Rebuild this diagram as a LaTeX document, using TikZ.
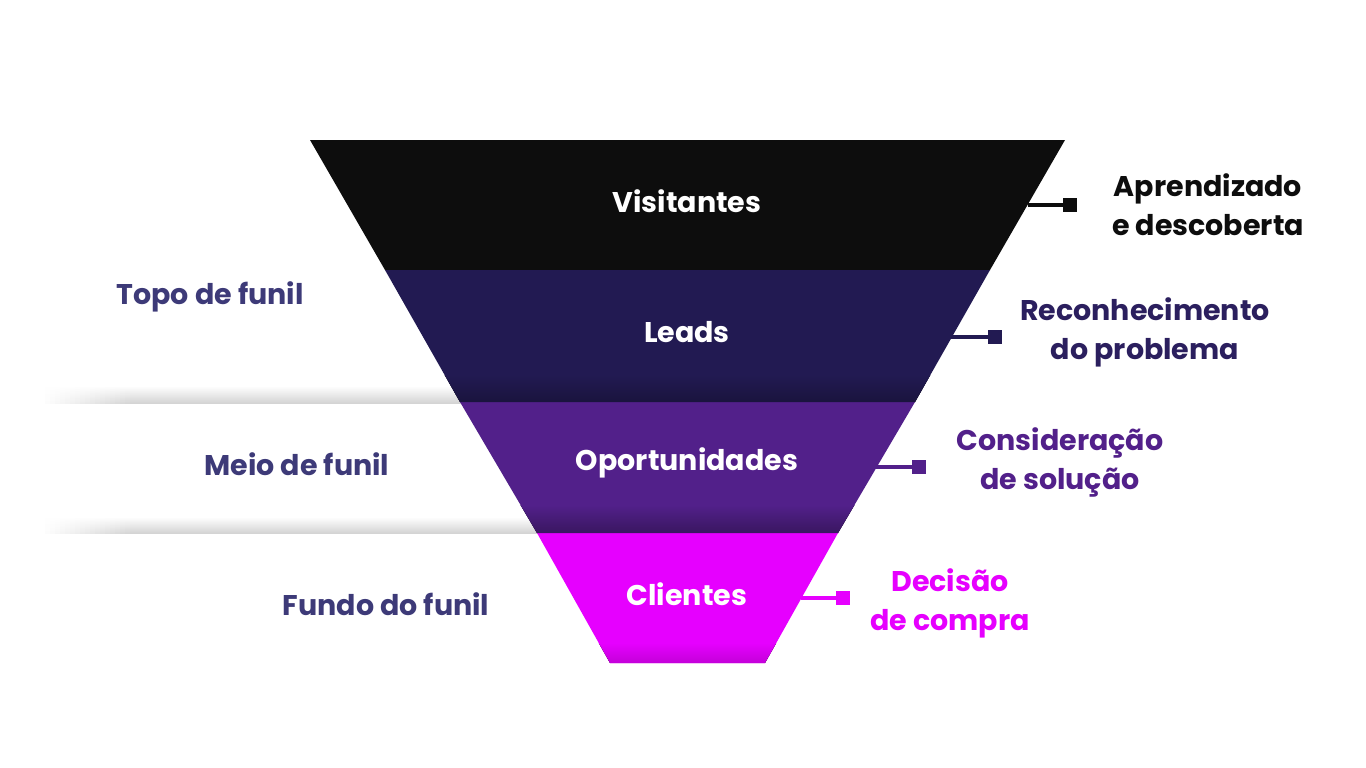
\documentclass[tikz,border=0pt]{standalone}
\usepackage{fontspec}
\setmainfont{Poppins}
\definecolor{cBlack}{HTML}{0D0D0D}
\definecolor{cNavy}{HTML}{221A52}
\definecolor{cPurple}{HTML}{52208A}
\definecolor{cMagenta}{HTML}{E600FF}
\definecolor{cLeft}{HTML}{3D3A78}
\definecolor{cNavyTxt}{HTML}{2B1F5E}
\definecolor{cPurpleTxt}{HTML}{52208A}
\tikzset{
  bandlabel/.style={text=white, font=\fontsize{28.5}{32}\selectfont\bfseries, anchor=center},
  sidelabel/.style={font=\fontsize{28.5}{39}\selectfont\bfseries, align=center, anchor=center},
  leftlabel/.style={text=cLeft, font=\fontsize{28.5}{32}\selectfont\bfseries, anchor=center},
  sq/.style={minimum size=14pt, inner sep=0pt, draw=none},
  conn/.style={line width=3.5pt},
  shadowstrip/.style={top color=white, bottom color=black!17},
}
\begin{document}
\begin{tikzpicture}[x=1pt,y=-1pt]
\useasboundingbox (0,0) rectangle (1366,768);
\fill[white] (0,0) rectangle (1366,768);
% left shadow strips
\fill[shadowstrip] (40,386) rectangle (470,403);
\fill[shadowstrip] (40,517) rectangle (545,533);
\foreach \i in {0,...,17}{
  \fill[white, opacity={1-\i/18}] ({40+5*\i},385) rectangle ({45.3+5*\i},404);
  \fill[white, opacity={1-\i/18}] ({40+5*\i},516) rectangle ({45.3+5*\i},534);
}
% funnel bands
\coordinate (t1l) at (310,140); \coordinate (t1r) at (1065,140);
\coordinate (t2l) at (385,270); \coordinate (t2r) at (990,270);
\coordinate (t3l) at (460,402); \coordinate (t3r) at (915,402);
\coordinate (t4l) at (537,533); \coordinate (t4r) at (838,533);
\coordinate (t5l) at (610,663); \coordinate (t5r) at (765,663);
\fill[cBlack] (t1l) -- (t1r) -- (t2r) -- (t2l) -- cycle;
\fill[cNavy] (t2l) -- (t2r) -- (t3r) -- (t3l) -- cycle;
\fill[cPurple] (t3l) -- (t3r) -- (t4r) -- (t4l) -- cycle;
\fill[cMagenta] (t4l) -- (t4r) -- (t5r) -- (t5l) -- cycle;
% bottom shading of bands
\begin{scope}
\clip (t2l) -- (t2r) -- (t3r) -- (t3l) -- cycle;
\fill[top color=cNavy, bottom color=cNavy!75!black] (380,375) rectangle (1000,402);
\end{scope}
\begin{scope}
\clip (t3l) -- (t3r) -- (t4r) -- (t4l) -- cycle;
\fill[top color=cPurple, bottom color=cPurple!70!black] (450,505) rectangle (920,533);
\end{scope}
\begin{scope}
\clip (t4l) -- (t4r) -- (t5r) -- (t5l) -- cycle;
\fill[top color=cMagenta, bottom color=cMagenta!85!black] (530,643) rectangle (840,663);
\end{scope}
% band labels
\node[bandlabel] (v) at (687,201) {Visitantes};
\node[bandlabel] (l) at (687,332) {Leads};
\node[bandlabel] (o) at (687,463) {Oportunidades};
\node[bandlabel] (c) at (687,594) {Clientes};
% left labels
\node[leftlabel] (topo) at (210,297) {Topo de funil};
\node[leftlabel] (meio) at (297,464) {Meio de funil};
\node[leftlabel] (fundo) at (386,604) {Fundo do funil};
% connectors
\coordinate (e1) at (1027.5,205);
\coordinate (e2) at (951,337);
\coordinate (e3) at (876,467);
\coordinate (e4) at (801,598);
\node[sq, fill=cBlack] (s1) at (1070,205) {};
\node[sq, fill=cNavy] (s2) at (995,337) {};
\node[sq, fill=cPurple] (s3) at (919,467) {};
\node[sq, fill=cMagenta] (s4) at (843,598) {};
\draw[conn, cBlack] (e1) -- (s1.west);
\draw[conn, cNavy] (e2) -- (s2.west);
\draw[conn, cPurple] (e3) -- (s3.west);
\draw[conn, cMagenta] (e4) -- (s4.west);
% right labels
\node[sidelabel, text=cBlack] (r1) at (1208,205) {Aprendizado\\e descoberta};
\node[sidelabel, text=cNavyTxt] (r2) at (1145,332) {Reconhecimento\\do problema};
\node[sidelabel, text=cPurpleTxt] (r3) at (1060,462) {Consideração\\de solução};
\node[sidelabel, text=cMagenta] (r4) at (950,603) {Decisão\\de compra};
\end{tikzpicture}
\end{document}
